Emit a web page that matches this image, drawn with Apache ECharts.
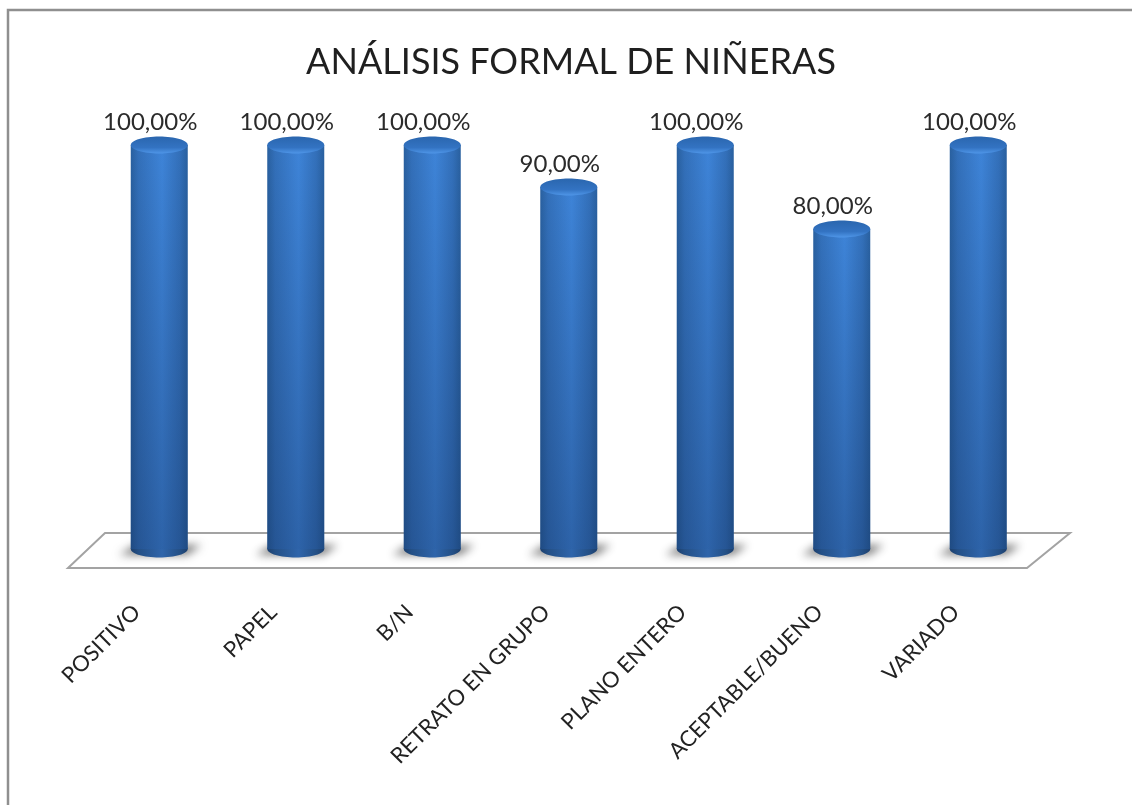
<!DOCTYPE html>
<html><head><meta charset="utf-8">
<style>html,body{margin:0;padding:0;background:#fff}#c{width:1132px;height:805px}</style>
<script src="https://cdn.jsdelivr.net/npm/echarts@6/dist/echarts.min.js"></script>
</head><body><div id="c"></div>
<script>
const chartTitle = 'ANÁLISIS FORMAL DE NIÑERAS';
const categories = ['POSITIVO','PAPEL','B/N','RETRATO EN GRUPO','PLANO ENTERO','ACEPTABLE/BUENO','VARIADO'];
const values = [100,100,100,90,100,80,100];
const FONT = 'Lato, "Open Sans", sans-serif';
const chart = echarts.init(document.getElementById('c'), null, {renderer:'canvas'});

function hGrad(edge, near, mid){
  return new echarts.graphic.LinearGradient(0,0,1,0,[
    {offset:0,color:edge},{offset:.14,color:near},{offset:.55,color:mid},{offset:.86,color:near},{offset:1,color:edge}]);
}
function renderCyl(params, api){
  const idx = api.value(0), v = api.value(1);
  const top = api.coord([idx, v]);
  const zero = api.coord([idx, 0]);
  const cx = top[0], rx = 28.5, ry = 8.5;
  const yTop = top[1]-1, yBot = zero[1]-17;
  const OFF = 3000;
  const children = [];
  // soft blurred shadow on the floor: only the canvas shadow of an off-canvas polygon shows
  children.push({type:'polygon', shape:{points:[[cx-40-OFF,yBot+6],[cx-24-OFF,yBot-4],[cx+42-OFF,yBot-4],[cx+28-OFF,yBot+6]]},
    style:{fill:'#777',shadowBlur:9,shadowOffsetX:OFF,shadowColor:'rgba(110,110,110,0.9)'}});
  const bodyGrad = new echarts.graphic.LinearGradient(0,0,0,1,[{offset:0,color:'rgba(10,30,70,0)'},{offset:1,color:'rgba(10,30,70,0.32)'}]);
  children.push({type:'ellipse',shape:{cx:cx,cy:yBot,rx:rx,ry:ry},style:{fill:hGrad('#1c3f6d','#245086','#2f65ab')}});
  children.push({type:'rect',shape:{x:cx-rx,y:yTop,width:rx*2,height:yBot-yTop},style:{fill:hGrad('#29609f','#3370ba','#3e84d8')}});
  children.push({type:'rect',shape:{x:cx-rx,y:yTop,width:rx*2,height:yBot-yTop},style:{fill:bodyGrad}});
  children.push({type:'ellipse',shape:{cx:cx,cy:yTop,rx:rx,ry:ry},
    style:{fill:new echarts.graphic.LinearGradient(0,0,0,1,[{offset:0,color:'#2a66ae'},{offset:.65,color:'#3373c2'},{offset:1,color:'#4f96e8'}])}});
  children.push({type:'text',style:{x:cx-9,y:yTop-23,text:v.toFixed(2).replace('.',',')+'%',
    font:'24px '+FONT,fill:'#2b2b2b',align:'center',verticalAlign:'middle'}});
  return {type:'group',children};
}
const floorY = [533,568];
chart.setOption({
  animation:false,
  title:{text:chartTitle,left:566,top:39,textAlign:'center',textStyle:{fontFamily:FONT,fontSize:36,fontWeight:'normal',color:'#1f1f1f'}},
  grid:{left:91,width:955.5,top:146,height:420},
  xAxis:{type:'category',data:categories,axisLine:{show:false},axisTick:{show:false},
    axisLabel:{interval:0,rotate:45,margin:20,padding:[0,32,0,0],fontFamily:FONT,fontSize:22,color:'#222'}},
  yAxis:{type:'value',min:0,max:100,show:false,splitLine:{show:false}},
  graphic:[
    {type:'polyline',silent:true,z:-1,shape:{points:[[8,805],[8,10],[1132,10]]},style:{stroke:'#8f8f8f',lineWidth:2.5,fill:'none'}},
    {type:'polygon',silent:true,z:-1,shape:{points:[[105,floorY[0]],[1070,floorY[0]],[1027,floorY[1]],[68,floorY[1]]]},style:{fill:'#fff',stroke:'#a3a3a3',lineWidth:2}}
  ],
  series:[{type:'custom',renderItem:renderCyl,clip:false,encode:{x:0,y:1},
    data:values.map((v,i)=>[i,v])}]
});
</script></body></html>
